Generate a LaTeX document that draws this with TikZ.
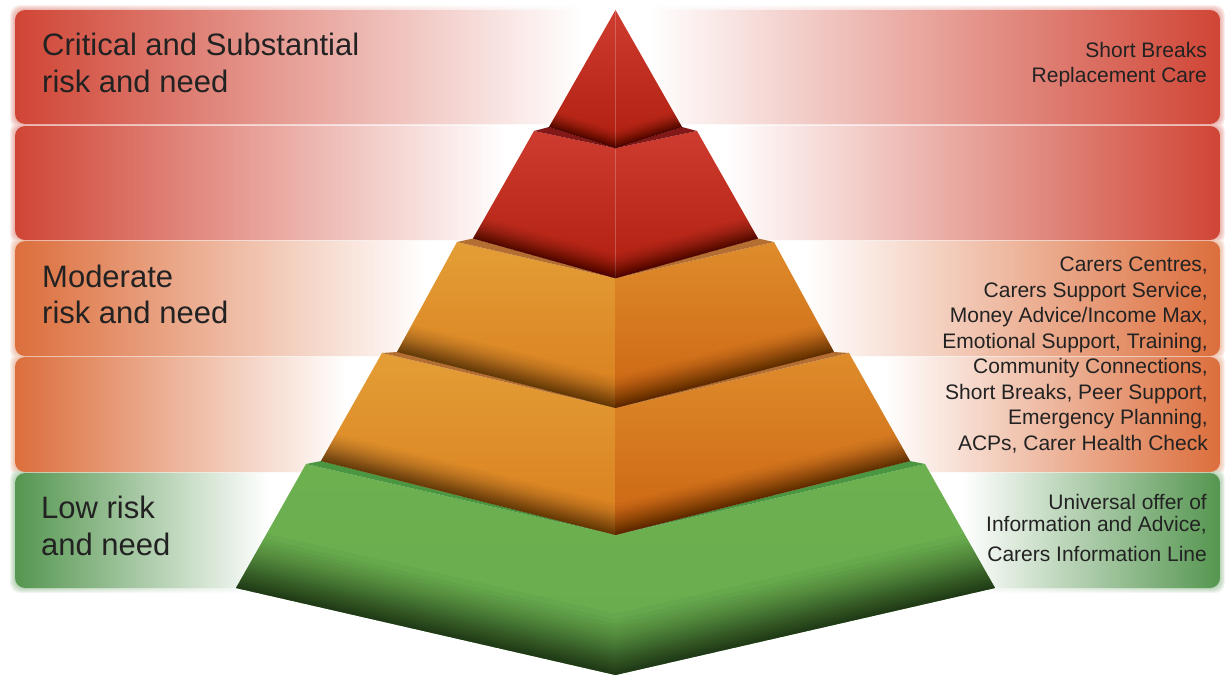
\documentclass[tikz,border=0pt]{standalone}
\usepackage{fontspec}
\setmainfont{Liberation Sans}

% band colours
\definecolor{bandred}{RGB}{208,69,53}
\definecolor{bandorange}{RGB}{220,110,60}
\definecolor{bandgreen}{RGB}{85,150,80}
\definecolor{txt}{RGB}{34,34,34}
% pyramid face colours
\definecolor{redtop}{RGB}{205,60,46}
\definecolor{redbot}{RGB}{176,30,16}
\definecolor{redledge}{RGB}{130,24,24}
\definecolor{orltop}{RGB}{228,158,54}
\definecolor{orlbot}{RGB}{216,126,30}
\definecolor{orrtop}{RGB}{222,140,44}
\definecolor{orrbot}{RGB}{204,100,18}
\definecolor{orledge}{RGB}{180,110,50}
\definecolor{grtop}{RGB}{108,176,80}
\definecolor{grbot}{RGB}{104,172,78}
\definecolor{grledge}{RGB}{75,150,65}

% one rounded band: #1 top, #2 bottom, #3 colour, #4/#5 where it turns white, #6 grow
\newcommand\tierband[6]{%
  \begin{scope}
    \clip[rounded corners=10pt] (15-#6,#1-#6) rectangle (1220+#6,#2+#6);
    \shade[left color=#3,right color=white] (15-#6,#1-#6) rectangle (#4,#2+#6);
    \fill[white] (#4,#1-#6) rectangle (#5,#2+#6);
    \shade[left color=white,right color=#3] (#5,#1-#6) rectangle (1220+#6,#2+#6);
  \end{scope}}

% darkening along the lower V edge of a layer, easing in from above:
% #1 left corner x, #2 corner y, #3 centre y, #4 right corner x, #5 depth, #6 step opacity
\newcommand\botshadow[6]{%
  \foreach \k in {1,...,30}{%
    \pgfmathsetmacro\shd{#5*(1-sqrt(\k/30))}%
    \pgfmathsetmacro\ext{40*(#3-#2)/(615.5-#1)}%
    \fill[black,opacity=#6] (#1-40,{#2-\shd-\ext}) -- (615.5,{#3-\shd})
      -- (#4+40,{#2-\shd-\ext}) -- (#4+40,700) -- (#1-40,700) -- cycle;
  }}

\begin{document}
\begin{tikzpicture}[x=1pt,y=-1pt,
  lefttext/.style={font=\fontsize{31}{37}\selectfont,text=txt,align=left,
    inner sep=0pt,anchor=base west},
  righttext/.style={font=\fontsize{21}{25.5}\selectfont,text=txt,align=right,
    inner sep=0pt,anchor=base east}]
\useasboundingbox (0,0) rectangle (1225,675);
\fill[white] (0,0) rectangle (1225,675);

% soft glow round the bands
\foreach \g in {5,4,3,2,1}{
  \begin{scope}[transparency group,opacity=0.09]
    \tierband{10}{124}{bandred}{583}{648}{\g}
    \tierband{126}{240}{bandred}{505}{726}{\g}
    \tierband{241}{356}{bandorange}{426}{805}{\g}
    \tierband{357}{472}{bandorange}{347}{884}{\g}
    \tierband{473}{588}{bandgreen}{269}{962}{\g}
  \end{scope}
}
% the bands
\tierband{10}{124}{bandred}{583}{648}{0}
\tierband{126}{240}{bandred}{505}{726}{0}
\tierband{241}{356}{bandorange}{426}{805}{0}
\tierband{357}{472}{bandorange}{347}{884}{0}
\tierband{473}{588}{bandgreen}{269}{962}{0}

% ---- pyramid, bottom layer first ----
% layer 5 (green)
\shade[top color=grtop,bottom color=grbot] (306,464) -- (615.5,535) -- (615.5,675) -- (236,588) -- cycle;
\shade[top color=grtop,bottom color=grbot] (615.5,535) -- (925,464) -- (995,588) -- (615.5,675) -- cycle;
\fill[grledge] (306,464) -- (321,461) -- (615.5,535) -- (910,461) -- (925,464) -- (615.5,535) -- cycle;
\begin{scope}
  \clip (306,464) -- (615.5,535) -- (925,464) -- (995,588) -- (615.5,675) -- (236,588) -- cycle;
  \botshadow{236}{588}{675}{995}{75}{0.032}
\end{scope}

% layer 4 (orange)
\shade[top color=orltop,bottom color=orlbot] (382,353) -- (615.5,408) -- (615.5,535) -- (321,461) -- cycle;
\shade[top color=orrtop,bottom color=orrbot] (615.5,408) -- (849,353) -- (910,461) -- (615.5,535) -- cycle;
\fill[orledge] (382,353) -- (397,352) -- (615.5,408) -- (834,352) -- (849,353) -- (615.5,408) -- cycle;
\begin{scope}
  \clip (382,353) -- (615.5,408) -- (849,353) -- (910,461) -- (615.5,535) -- (321,461) -- cycle;
  \botshadow{321}{461}{535}{910}{38}{0.023}
\end{scope}

% layer 3 (orange)
\shade[top color=orltop,bottom color=orlbot] (457,242) -- (615.5,278.3) -- (615.5,408) -- (397,352) -- cycle;
\shade[top color=orrtop,bottom color=orrbot] (615.5,278.3) -- (774,242) -- (834,352) -- (615.5,408) -- cycle;
\fill[orledge] (457,242) -- (473,238.5) -- (615.5,278.3) -- (758,238.5) -- (774,242) -- (615.5,278.3) -- cycle;
\begin{scope}
  \clip (457,242) -- (615.5,278.3) -- (774,242) -- (834,352) -- (615.5,408) -- (397,352) -- cycle;
  \botshadow{397}{352}{408}{834}{38}{0.023}
\end{scope}

% layer 2 (red)
\shade[top color=redtop,bottom color=redbot] (534,131) -- (615.5,148.3) -- (615.5,278.3) -- (473,238.5) -- cycle;
\shade[top color=redtop,bottom color=redbot] (615.5,148.3) -- (697,131) -- (758,238.5) -- (615.5,278.3) -- cycle;
\fill[redledge] (534,131) -- (549,127) -- (615.5,148.3) -- (682,127) -- (697,131) -- (615.5,148.3) -- cycle;
\begin{scope}
  \clip (534,131) -- (615.5,148.3) -- (697,131) -- (758,238.5) -- (615.5,278.3) -- (473,238.5) -- cycle;
  \botshadow{473}{238.5}{278.3}{758}{30}{0.023}
\end{scope}

% layer 1 (red apex)
\shade[top color=redtop,bottom color=redbot] (615.5,10) -- (615.5,148.3) -- (549,127) -- cycle;
\shade[top color=redtop,bottom color=redbot] (615.5,10) -- (682,127) -- (615.5,148.3) -- cycle;
\begin{scope}
  \clip (615.5,10) -- (682,127) -- (615.5,148.3) -- (549,127) -- cycle;
  \botshadow{549}{127}{148.3}{682}{22}{0.023}
\end{scope}

% ---- texts (anchored on the baseline of their last line) ----
\node[lefttext] (crit) at (42,92) {Critical and Substantial\\risk and need};
\node[lefttext,font=\fontsize{31}{36}\selectfont] (mod) at (42,323) {Moderate\\risk and need};
\node[lefttext] (low) at (41,555) {Low risk\\and need};

\node[righttext,font=\fontsize{21}{25}\selectfont] (crittxt) at (1207,82) {Short Breaks\\Replacement Care};
\node[righttext] (modtxt) at (1208,450) {Carers Centres,\\Carers Support Service,\\Money Advice/Income Max,\\Emotional Support, Training,\\Community Connections,\\Short Breaks, Peer Support,\\Emergency Planning,\\ACPs, Carer Health Check};
\node[righttext,font=\fontsize{21}{22}\selectfont] (lowtxt) at (1207,561) {Universal offer of\\Information and Advice,\\[8pt]Carers Information Line};
\end{tikzpicture}
\end{document}
